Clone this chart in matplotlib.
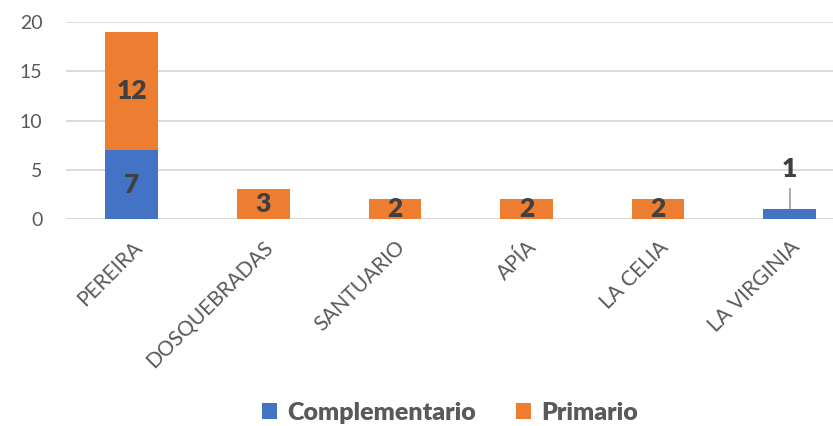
import matplotlib.pyplot as plt
import numpy as np

# data
categories = ["PEREIRA", "DOSQUEBRADAS", "SANTUARIO", "APÍA", "LA CELIA", "LA VIRGINIA"]
complementario = [7, 0, 0, 0, 0, 1]
primario = [12, 3, 2, 2, 2, 0]

BLUE = "#4472C4"
ORANGE = "#ED7D31"
GREY = "#595959"
DARK = "#404040"

plt.rcParams['font.family'] = ['Lato', 'DejaVu Sans']

fig = plt.figure(figsize=(8.33, 4.26), dpi=100)
ax = fig.add_axes([0.0792, 0.486, 0.9208, 0.462])

x = np.arange(len(categories))
w = 0.4
b1 = ax.bar(x, complementario, w, color=BLUE, label="Complementario", zorder=3)
b2 = ax.bar(x, primario, w, bottom=complementario, color=ORANGE, label="Primario", zorder=3)

ax.set_ylim(0, 20)
ax.set_xlim(-0.5, 5.33)
ax.set_yticks([0, 5, 10, 15, 20])
ax.yaxis.grid(True, color="#D9D9D9", linewidth=1.3, zorder=0)
for s in ax.spines.values():
    s.set_visible(False)
ax.tick_params(axis='both', length=0, labelcolor=GREY)
ax.tick_params(axis='y', labelsize=14, pad=17)
ax.set_xticks(x)
ax.set_xticklabels(categories, rotation=45, ha='right', rotation_mode='anchor', fontsize=15)
ax.tick_params(axis='x', pad=13)
ax.axhline(0, color="#D9D9D9", linewidth=1.3, zorder=1)

# data labels
lbl = dict(ha='center', va='center', fontsize=19, fontweight='heavy', color=DARK, zorder=4)
for i in range(len(categories)):
    c, p = complementario[i], primario[i]
    if c and p:
        ax.text(i, c / 2, str(c), **lbl)
    if p:
        ax.text(i, c + p / 2, str(p), **lbl)
    if c and not p:
        # small bar: label above with leader line
        ax.plot([i, i], [c, 3.0], color="#A6A6A6", linewidth=1.3, zorder=2)
        ax.text(i, 5.1, str(c), **lbl)

leg = fig.legend(handles=[b1, b2], loc='center', bbox_to_anchor=(0.54, 0.03),
                 ncol=2, frameon=False, fontsize=18, handlelength=0.6, handleheight=0.6,
                 columnspacing=1.6, handletextpad=0.4)
for t in leg.get_texts():
    t.set_color(GREY)
    t.set_fontweight('heavy')

fig.savefig("out.png", dpi=100)
